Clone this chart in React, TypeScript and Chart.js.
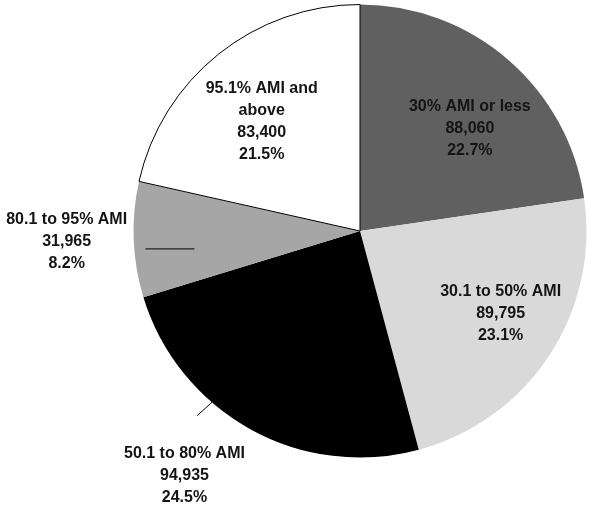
import React, { useEffect, useRef } from "react";
import { Chart, registerables } from "chart.js";

Chart.register(...registerables);

const categories = [
  "30% AMI or less",
  "30.1 to 50% AMI",
  "50.1 to 80% AMI",
  "80.1 to 95% AMI",
  "95.1% AMI and\nabove",
];
const households = [88060, 89795, 94935, 31965, 83400];
const sliceColors = ["#606060", "#d9d9d9", "#000000", "#a6a6a6", "#ffffff"];
const sliceBorderWidths = [0, 0, 0, 0, 1];

// label centre offsets, in units of the pie radius, relative to the pie centre
const labelOffsets: [number, number][] = [
  [0.485, -0.452],
  [0.621, 0.366],
  [-0.775, 1.079],
  [-1.295, 0.048],
  [-0.434, -0.481],
];
// leader line segments (radius units), null if none
const leaderLines: ([number, number, number, number] | null)[] = [
  null,
  null,
  [-0.719, 0.815, -0.653, 0.756],
  [-0.947, 0.079, -0.731, 0.079],
  null,
];

const labelPlugin = {
  id: "sliceLabels",
  afterDatasetsDraw(chart: any) {
    const ctx = chart.ctx;
    const meta = chart.getDatasetMeta(0);
    const data = chart.data.datasets[0].data as number[];
    const total = data.reduce((a, b) => a + b, 0);
    ctx.save();
    meta.data.forEach((arc: any, i: number) => {
      const { x, y, outerRadius: r } = arc.getProps(["x", "y", "outerRadius"], true);
      const ll = leaderLines[i];
      if (ll) {
        ctx.beginPath();
        ctx.strokeStyle = "#000";
        ctx.lineWidth = 1;
        ctx.moveTo(x + ll[0] * r, y + ll[1] * r);
        ctx.lineTo(x + ll[2] * r, y + ll[3] * r);
        ctx.stroke();
      }
      const lines = [
        ...String(chart.data.labels[i]).split("\n"),
        data[i].toLocaleString("en-US"),
        ((data[i] / total) * 100).toFixed(1) + "%",
      ];
      const lh = 22;
      const cx = x + labelOffsets[i][0] * r;
      const cy = y + labelOffsets[i][1] * r;
      ctx.font = "bold 16px 'Liberation Sans', Arial, sans-serif";
      ctx.fillStyle = "#141414";
      ctx.textAlign = "center";
      ctx.textBaseline = "middle";
      lines.forEach((t, k) => {
        ctx.fillText(t, cx, cy + (k - (lines.length - 1) / 2) * lh);
      });
    });
    ctx.restore();
  },
};

export default function App() {
  const ref = useRef<HTMLCanvasElement>(null);
  useEffect(() => {
    if (!ref.current) return;
    const chart = new Chart(ref.current, {
      type: "pie",
      data: {
        labels: categories,
        datasets: [
          {
            data: households,
            backgroundColor: sliceColors,
            borderColor: "#000000",
            borderWidth: sliceBorderWidths,
          },
        ],
      },
      options: {
        responsive: false,
        animation: false,
        layout: { padding: { left: 133, right: 2, top: 4, bottom: 50 } },
        plugins: {
          legend: { display: false },
          tooltip: { enabled: false },
        },
      },
      plugins: [labelPlugin],
    });
    return () => chart.destroy();
  }, []);
  return (
    <div style={{ position: "fixed", left: 0, top: 0, width: 589, height: 508, background: "#fff" }}>
      <canvas ref={ref} width={589} height={508} />
    </div>
  );
}
